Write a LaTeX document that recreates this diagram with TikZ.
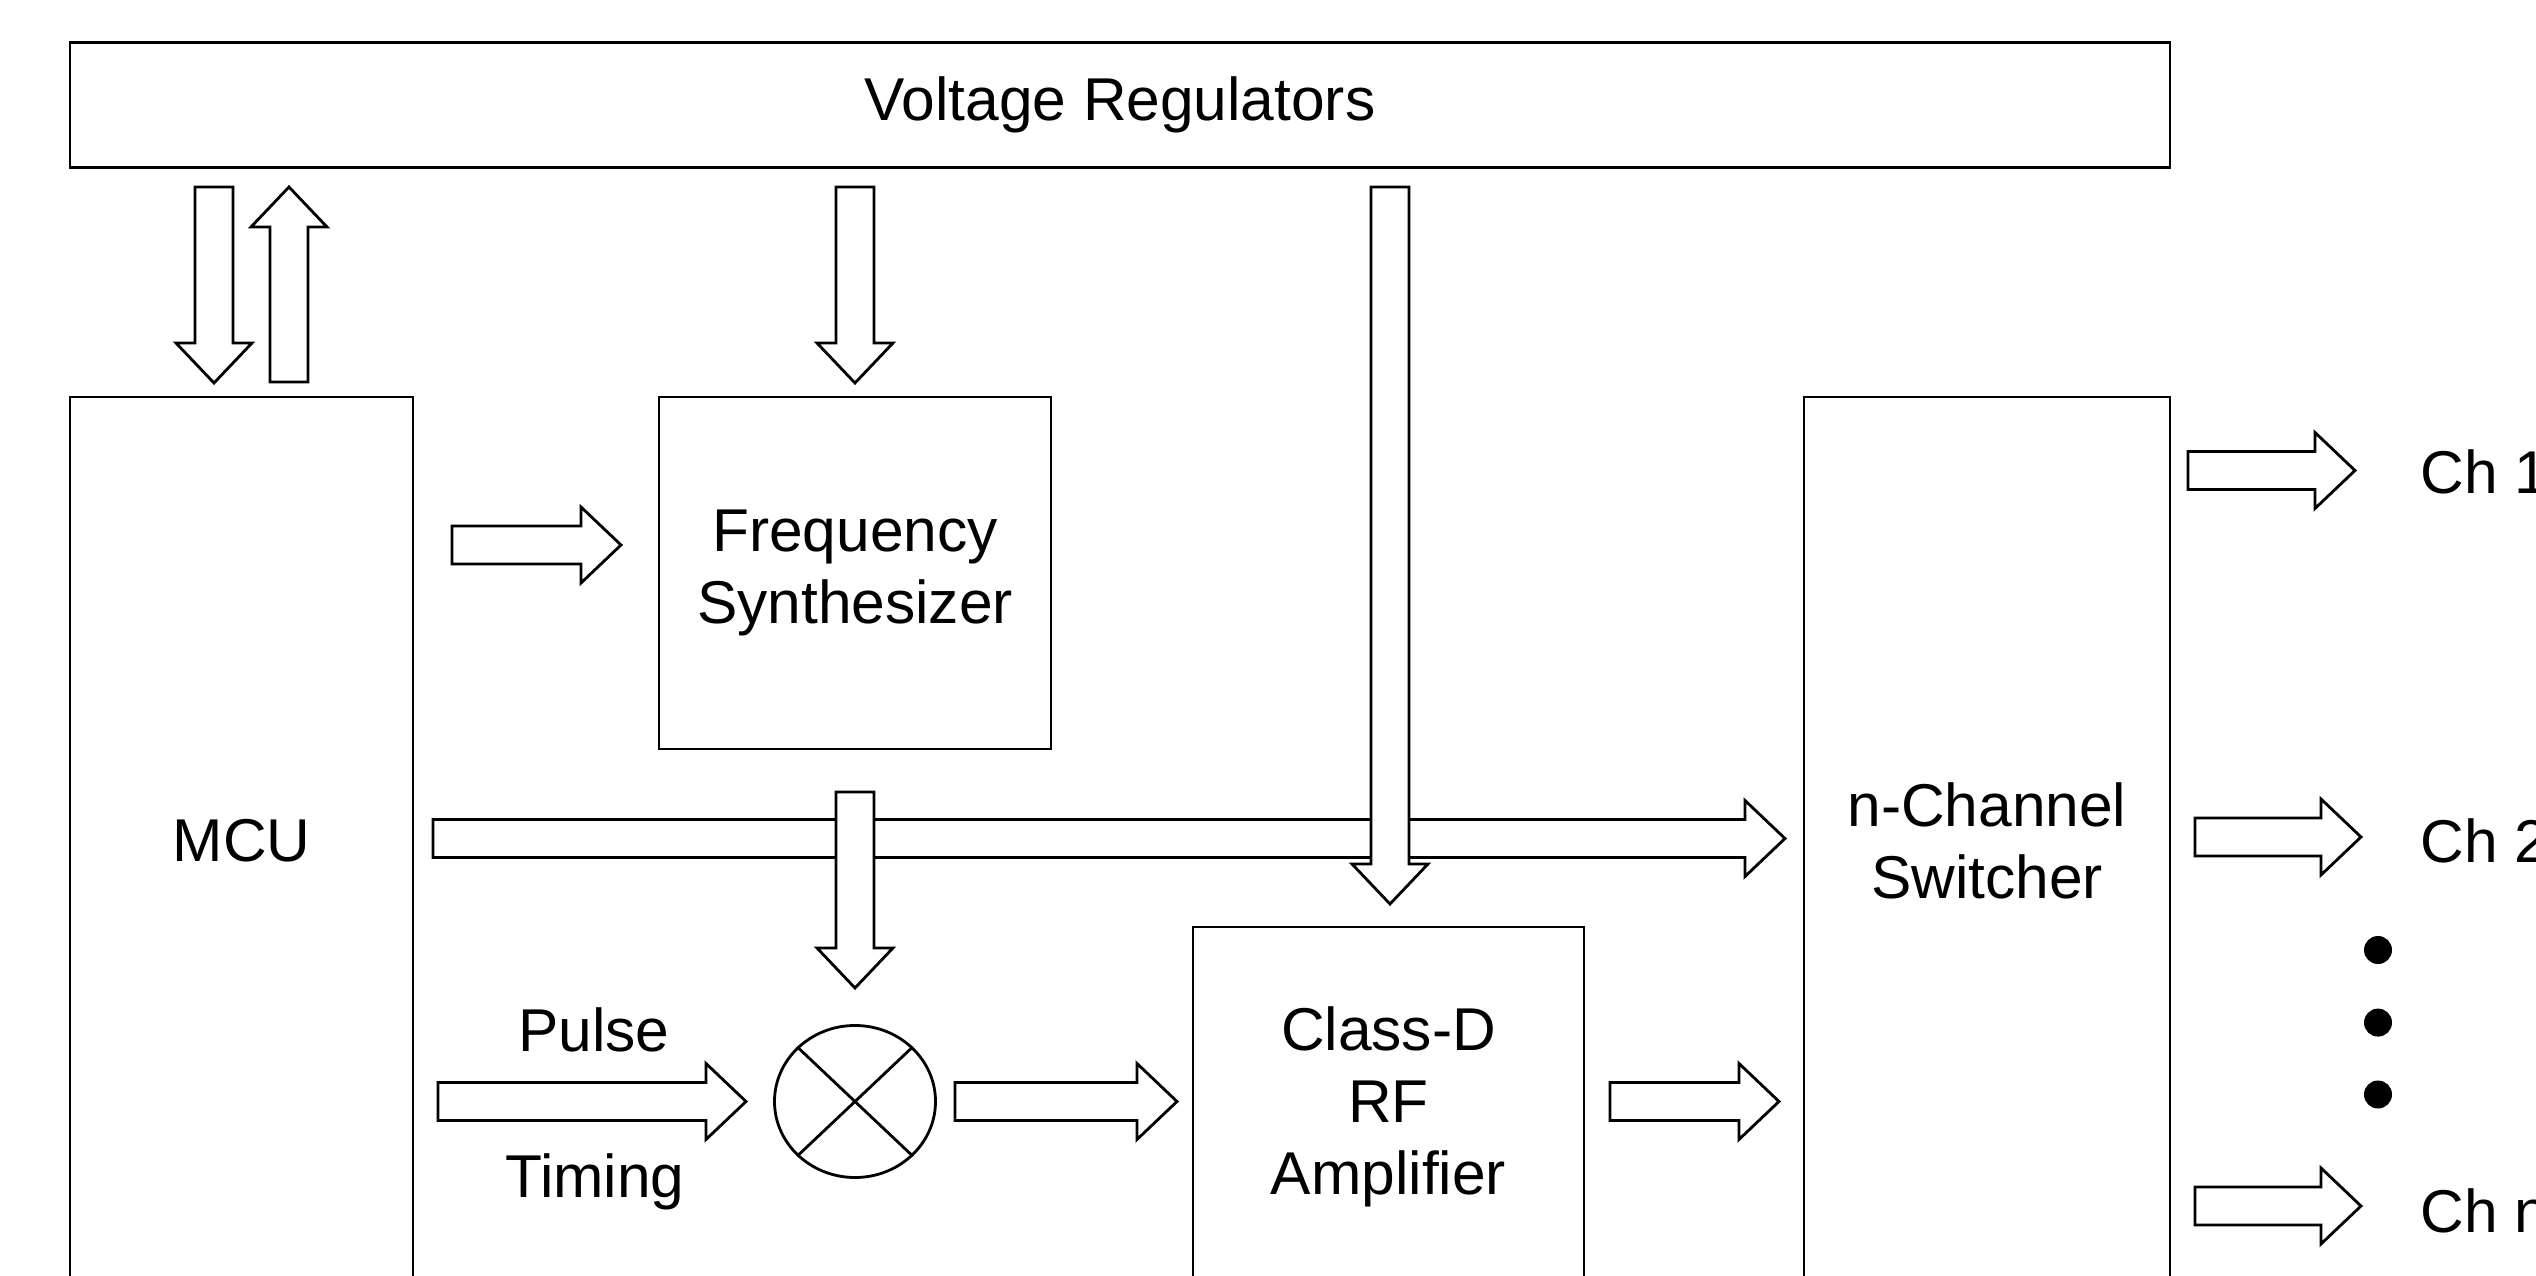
\documentclass[tikz,border=0pt]{standalone}
\usepackage{fontspec}
\setmainfont{Liberation Sans}
\usetikzlibrary{calc,shapes.geometric}

\begin{document}
\begin{tikzpicture}

% =======================================================
% Layout parameters
% =======================================================

% block arrow geometry
\def\shaft{0.19cm}    % half width of arrow body
\def\head{0.38cm}     % half width of arrow head
\def\headlen{0.40cm}  % length of arrow head

% =======================================================
% Styles
% =======================================================
\tikzset{
  block/.style    = {draw, line width=0.8pt, inner sep=0pt, align=center,
                     font=\fontsize{17.2}{20.5}\selectfont},
  lbl/.style      = {inner sep=0pt, font=\fontsize{17.2}{20.5}\selectfont},
  fatarrow/.style = {draw, fill=white, line width=0.8pt, line join=miter},
}

% hollow block arrow: tail coordinate -> tip coordinate
\newcommand{\blockarrow}[2]{%
  \coordinate (hb) at ($(#2)!\headlen!(#1)$);
  \draw[fatarrow]
    ($(#1)!\shaft!90:(#2)$) -- ($(hb)!\shaft!90:(#2)$)
    -- ($(hb)!\head!90:(#2)$) -- (#2) -- ($(hb)!\head!-90:(#2)$)
    -- ($(hb)!\shaft!-90:(#2)$) -- ($(#1)!\shaft!-90:(#2)$) -- cycle;
}

% page size (bottom and right side are cut off)
\useasboundingbox (0,0) rectangle (25.36,12.75);
\clip (0,0) rectangle (25.36,12.75);

% =======================================================
% Blocks
% =======================================================

\node[block, minimum width=21.0cm, minimum height=1.25cm]
    (vreg) at (11.20,11.70) {Voltage Regulators};

\node[block, minimum width=3.43cm, minimum height=8.88cm]
    (mcu) at (2.415,4.34) {MCU};

\node[block, minimum width=3.92cm, minimum height=3.52cm]
    (synth) at (8.55,7.02) {Frequency\\Synthesizer};

\node[block, minimum width=3.91cm, minimum height=3.60cm]
    (amp) at (13.885,1.68) {Class-D\\RF\\Amplifier};

\node[block, minimum width=3.66cm, minimum height=8.88cm]
    (switch) at (19.87,4.34) {n-Channel\\Switcher};

% mixer
\node[draw, ellipse, line width=0.8pt, inner sep=0pt,
      minimum width=1.61cm, minimum height=1.52cm]
    (mix) at (8.55,1.735) {};
\draw[line width=0.8pt]
    (mix.north west) -- (mix.south east)
    (mix.north east) -- (mix.south west);

% =======================================================
% Arrow end points
% =======================================================

\coordinate (regmcuA) at (2.14,10.88);   % regulators -> MCU
\coordinate (regmcuB) at (2.14,8.92);
\coordinate (mcuregA) at (2.89,8.93);    % MCU -> regulators
\coordinate (mcuregB) at (2.89,10.88);
\coordinate (regsynA) at (8.55,10.88);   % regulators -> synthesizer
\coordinate (regsynB) at (8.55,8.92);
\coordinate (regampA) at (13.90,10.88);  % regulators -> amplifier
\coordinate (regampB) at (13.90,3.71);

\coordinate (mcusynA) at (4.52,7.30);    % MCU -> synthesizer
\coordinate (mcusynB) at (6.21,7.30);
\coordinate (mcuswA)  at (4.33,4.365);   % MCU -> switcher
\coordinate (mcuswB)  at (17.85,4.365);
\coordinate (synmixA) at (8.55,4.83);    % synthesizer -> mixer
\coordinate (synmixB) at (8.55,2.87);

\coordinate (pulseA)  at (4.38,1.735);   % pulse timing -> mixer
\coordinate (pulseB)  at (7.46,1.735);
\coordinate (mixampA) at (9.55,1.735);   % mixer -> amplifier
\coordinate (mixampB) at (11.77,1.735);
\coordinate (ampswA)  at (16.10,1.735);  % amplifier -> switcher
\coordinate (ampswB)  at (17.79,1.735);

\coordinate (chA1) at (21.88,8.045);     % outputs
\coordinate (chB1) at (23.55,8.045);
\coordinate (chA2) at (21.95,4.38);
\coordinate (chB2) at (23.61,4.38);
\coordinate (chAn) at (21.95,0.69);
\coordinate (chBn) at (23.61,0.69);

% =======================================================
% Block arrows
% =======================================================

\blockarrow{regmcuA}{regmcuB}
\blockarrow{mcuregA}{mcuregB}
\blockarrow{regsynA}{regsynB}
\blockarrow{mcusynA}{mcusynB}

% long horizontal one first, vertical ones on top of it
\blockarrow{mcuswA}{mcuswB}
\blockarrow{synmixA}{synmixB}
\blockarrow{regampA}{regampB}

\blockarrow{pulseA}{pulseB}
\blockarrow{mixampA}{mixampB}
\blockarrow{ampswA}{ampswB}

\blockarrow{chA1}{chB1}
\blockarrow{chA2}{chB2}
\blockarrow{chAn}{chBn}

% =======================================================
% Labels
% =======================================================

\node[lbl, anchor=base] (pulse)  at (5.94,2.24) {Pulse};
\node[lbl, anchor=base] (timing) at (5.95,0.78) {Timing};

% channel names run off the right edge, as in the original
\node[lbl, anchor=base west] (ch1) at (24.20,7.81) {Ch 1};
\node[lbl, anchor=base west] (ch2) at (24.20,4.12) {Ch 2};
\node[lbl, anchor=base west] (chn) at (24.20,0.43) {Ch n};

% more channels
\foreach \y in {3.25,2.524,1.805}
  \fill (23.78,\y) circle (0.14cm);

\end{tikzpicture}
\end{document}
